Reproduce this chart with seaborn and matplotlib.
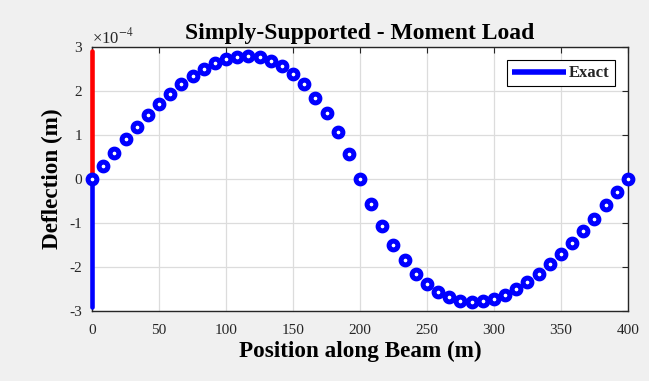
import numpy as np
import pandas as pd
import matplotlib
matplotlib.use("Agg")
import matplotlib.pyplot as plt
import seaborn as sns
from matplotlib.ticker import FuncFormatter

# ---- data ----
position = [0, 8.33, 16.67, 25, 33.33, 41.67, 50, 58.33, 66.67, 75, 83.33, 91.67,
            100, 108.33, 116.67, 125, 133.33, 141.67, 150, 158.33, 166.67, 175,
            183.33, 191.67, 200, 208.33, 216.67, 225, 233.33, 241.67, 250, 258.33,
            266.67, 275, 283.33, 291.67, 300, 308.33, 316.67, 325, 333.33, 341.67,
            350, 358.33, 366.67, 375, 383.33, 391.67, 400]
deflection_e4 = [0.00, 0.30, 0.60, 0.90, 1.18, 1.45, 1.70, 1.94, 2.16, 2.34, 2.51, 2.63,
                 2.73, 2.78, 2.80, 2.77, 2.69, 2.57, 2.39, 2.15, 1.85, 1.49,
                 1.07, 0.57, 0.00, -0.57, -1.07, -1.49, -1.85, -2.15, -2.39, -2.57,
                 -2.69, -2.77, -2.80, -2.78, -2.73, -2.63, -2.51, -2.34, -2.16, -1.94,
                 -1.70, -1.45, -1.18, -0.90, -0.60, -0.30, 0.00]
line_x = [0, 0]
red_line_y = [0.0, 2.92e-4]
blue_line_y = [0.0, -2.92e-4]
x_ticks = [0, 50, 100, 150, 200, 250, 300, 350, 400]
y_ticks = [-3e-4, -2e-4, -1e-4, 0, 1e-4, 2e-4, 3e-4]

df = pd.DataFrame({"x": position, "y": np.array(deflection_e4) * 1e-4})

sns.set_style("whitegrid")
plt.rcParams["font.family"] = ["Liberation Serif", "DejaVu Serif"]
plt.rcParams["mathtext.fontset"] = "stix"
plt.rcParams["axes.unicode_minus"] = False

fig = plt.figure(figsize=(6.49, 3.81), dpi=100, facecolor="#f0f0f0")
ax = fig.add_axes([0.1418, 0.1837, 0.8258, 0.6929])
ax.set_facecolor("white")

sns.lineplot(x=line_x, y=red_line_y, ax=ax, color="#ff0000", lw=3.3,
             estimator=None, sort=False, solid_capstyle="round", legend=False)
sns.lineplot(x=line_x, y=blue_line_y, ax=ax, color="#0000ff", lw=3.3,
             estimator=None, sort=False, solid_capstyle="round", label="Exact")
for ln in ax.get_lines():
    ln.set_clip_on(False)
    ln.set_zorder(4)
sns.scatterplot(data=df, x="x", y="y", ax=ax, marker="o", s=40,
                facecolor="white", edgecolor="#0000ff", linewidth=3.6,
                zorder=5, clip_on=False, legend=False)

ax.set_xlim(0, 400)
ax.set_ylim(-3e-4, 3e-4)
ax.set_xticks(x_ticks)
ax.set_yticks(y_ticks)
ax.yaxis.set_major_formatter(FuncFormatter(lambda v, p: "%d" % round(v * 1e4)))
ax.text(0.0, 1.0, "\u00d710$^{-4}$", transform=ax.transAxes, ha="left",
        va="bottom", fontsize=12, color="#262626")

ax.grid(True, color="#dcdcdc", lw=0.9)
for s in ax.spines.values():
    s.set_color("#262626")
    s.set_linewidth(1.0)
    s.set_visible(True)
ax.tick_params(direction="in", length=4, width=0.8, colors="#262626",
               labelsize=11, top=True, right=True)
ax.tick_params(axis="x", pad=9)
ax.tick_params(axis="y", pad=7)

ax.set_title("Simply-Supported - Moment Load", fontsize=17, fontweight="bold",
             color="black", pad=6)
ax.set_xlabel("Position along Beam (m)", fontsize=16.7, fontweight="bold",
              color="black", labelpad=3)
ax.set_ylabel("Deflection (m)", fontsize=16.7, fontweight="bold",
              color="black", labelpad=5)

leg = ax.legend(loc="upper right", fontsize=12, frameon=True, fancybox=False,
                edgecolor="black", framealpha=1, borderpad=0.3,
                handlelength=3.2, handletextpad=0.2, borderaxespad=0.8)
for t in leg.get_texts():
    t.set_fontweight("bold")
leg.get_frame().set_linewidth(0.8)
for h in leg.legend_handles:
    h.set_linewidth(4)
    h.set_solid_capstyle("butt")

fig.savefig("out.png", dpi=100, facecolor=fig.get_facecolor())
